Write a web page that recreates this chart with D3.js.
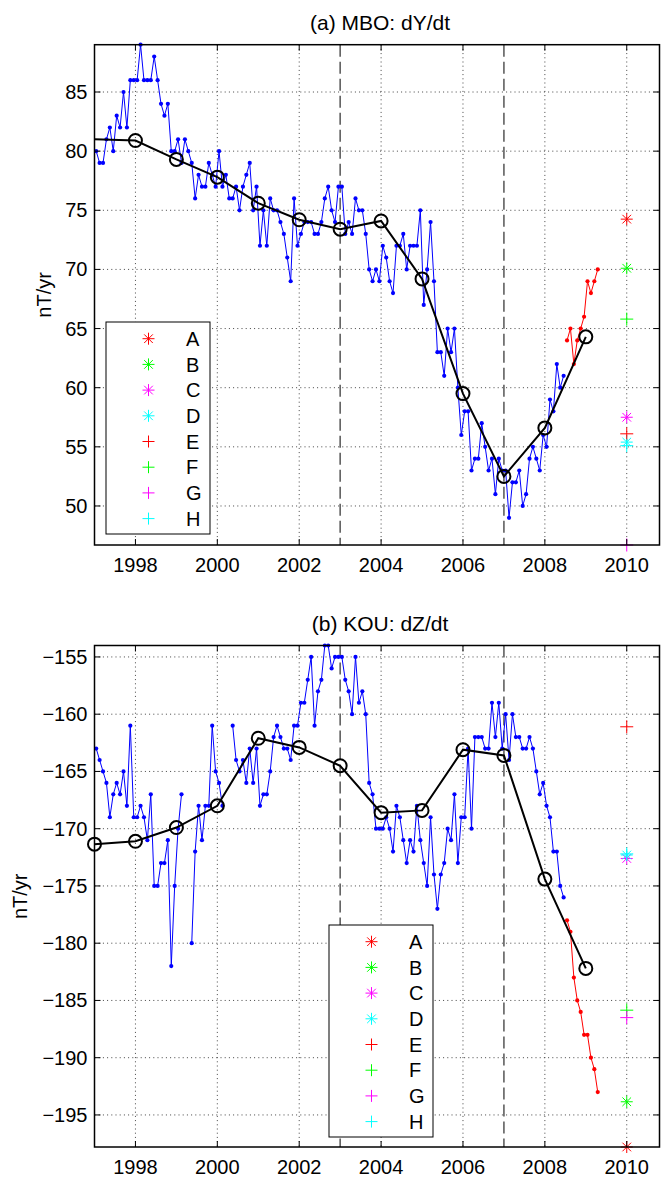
<!DOCTYPE html>
<html><head><meta charset="utf-8">
<script src="https://cdn.jsdelivr.net/npm/d3@7"></script>
<style>
html,body{margin:0;padding:0;background:#fff;}
svg{display:block;font-family:"Liberation Sans",Arial,Helvetica,sans-serif;}
</style></head><body>
<svg id="chart" width="661" height="1178"></svg>
<script>
// ---------------- data ----------------
const startYear = 1997;            // monthly series start (index 0 = Jan 1997)
const mboMonthly = [
  80,79,79,81,82,80,83,82,85,82,86,86,
  86,89,86,86,86,88,86,84,83,84,80,80,
  81,79,81,80,79,76,78,77,77,79,78,77,
  80,77,78,76,76,77,75,77,78,79,75,77,
  72,75,72,76,75,75,74,73,71,69,76,72,
  73,74,74,74,73,73,74,76,77,75,74,77,
  77,73,74,73,76,75,75,73,70,69,70,69,
  72,71,69,68,72,72,73,70,72,72,72,75,
  67,70,74,69,63,63,61,65,63,65,60,56,
  58,58,53,54,54,57,55,53,54,51,54,53,
  53,49,52,52,53,50,51,54,55,54,53,56,
  55,59,58,62,60,61
];
const kouMonthly = [
  -163,-164,-165,-166,-169,-167,-166,-167,-165,-168,-161,-169,
  -169,-168,-169,-171,-167,-175,-175,-173,-173,-171,-182,-175,
  -170,-167,null,null,-180,-172,-168,-171,-168,-168,-161,-165,
  -166,-168,null,null,-161,-164,-165,-164,-166,-163,-166,-163,
  -168,-167,-167,-165,-162,-161,-162,-163,-163,-164,-161,-161,
  -159,-159,-157,-155,-161,-158,-157,-154,-154,-156,-155,-155,
  -155,-157,-158,-160,-155,-159,-158,-160,-166,-167,-170,-170,
  -170,-169,-170,-172,-168,-169,-171,-173,-171,-172,-168,-171,
  -173,-175,-169,-174,-177,-174,-173,-170,-171,-167,-173,-169,
  -169,-163,-170,-162,-162,-162,-163,-163,-159,-162,-159,-163,
  -160,-164,-160,-162,-162,-163,-163,-162,-163,-165,-167,-166,
  -168,-169,-172,-172,-175,-176
];
const recentStartIndex = 138;      // month index where the red series begins
const mboRecent = [64,65,62,64,65,66,69,68,69,70];
const kouRecent = [-178,-179,-183,-185,-186,-188,-188,-190,-191,-193];

const annualYears = [1997,1998,1999,2000,2001,2002,2003,2004,2005,2006,2007,2008,2009];
const mboAnnual = [81.0,80.9,79.3,77.8,75.6,74.2,73.4,74.1,69.2,59.5,52.5,56.6,64.3];
const kouAnnual = [-171.35,-171.1,-169.9,-168.0,-162.1,-162.9,-164.5,-168.6,-168.4,-163.1,-163.6,-174.4,-182.2];

const modelNames   = ["A","B","C","D","E","F","G","H"];
const modelColors  = ["#ff0000","#00ff00","#ff00ff","#00ffff","#ff0000","#00ff00","#ff00ff","#00ffff"];
const modelSymbols = ["asterisk","asterisk","asterisk","asterisk","plus","plus","plus","plus"];
const modelEpoch = 2010;
const mboModels = [74.25,70.1,57.5,55.4,56.1,65.8,46.7,55.1];
const kouModels = [-197.8,-193.85,-172.6,-172.3,-161.1,-185.85,-186.5,-172.2];

const xTicks = [1998,2000,2002,2004,2006,2008,2010];
const mboYTicks = [50,55,60,65,70,75,80,85];
const kouYTicks = [-195,-190,-185,-180,-175,-170,-165,-160,-155];
const epochLines = [2003,2007];
const titles = ["(a) MBO: dY/dt","(b) KOU: dZ/dt"];
const yLabel = "nT/yr";

// ---------------- drawing ----------------
const svg = d3.select("#chart");
const FONT = 20;
const x = d3.scaleLinear().domain([1997, 2010.8]).range([94.5, 659.5]);
const monthTime = i => startYear + (i + 0.5) / 12;

function symbolPath(type, h) {
  if (type === "plus") return `M${-h},0L${h},0M0,${-h}L0,${h}`;
  const d = h * 0.72;
  return `M${-h},0L${h},0M0,${-h}L0,${h}M${-d},${-d}L${d},${d}M${-d},${d}L${d},${-d}`;
}

function panel(cfg) {
  const g = svg.append("g");
  const y = d3.scaleLinear().domain(cfg.yDomain).range([cfg.bottom, cfg.top]);
  const L = x.range()[0], R = x.range()[1];

  // grid
  g.append("g").selectAll("line").data(xTicks).join("line")
    .attr("x1", d => x(d)).attr("x2", d => x(d)).attr("y1", cfg.top).attr("y2", cfg.bottom)
    .attr("stroke", "#444").attr("stroke-width", 1).attr("stroke-dasharray", "1,3.2");
  g.append("g").selectAll("line").data(cfg.yTicks).join("line")
    .attr("x1", L).attr("x2", R).attr("y1", d => y(d)).attr("y2", d => y(d))
    .attr("stroke", "#444").attr("stroke-width", 1).attr("stroke-dasharray", "1,3.2");

  // epoch dashed lines
  g.append("g").selectAll("line").data(epochLines).join("line")
    .attr("x1", d => x(d)).attr("x2", d => x(d)).attr("y1", cfg.top).attr("y2", cfg.bottom)
    .attr("stroke", "#555").attr("stroke-width", 1.5).attr("stroke-dasharray", "12,5");

  // monthly blue
  const monthly = cfg.monthly.map((v, i) => ({t: monthTime(i), v}));
  const line = d3.line().defined(d => d.v != null).x(d => x(d.t)).y(d => y(d.v));
  g.append("path").datum(monthly).attr("d", line)
    .attr("fill", "none").attr("stroke", "#0000ff").attr("stroke-width", 1);
  g.append("g").selectAll("circle").data(monthly.filter(d => d.v != null)).join("circle")
    .attr("cx", d => x(d.t)).attr("cy", d => y(d.v)).attr("r", 2.1).attr("fill", "#0000ff");

  // recent red
  const recent = cfg.recent.map((v, i) => ({t: monthTime(recentStartIndex + i), v}));
  g.append("path").datum(recent).attr("d", line)
    .attr("fill", "none").attr("stroke", "#ff0000").attr("stroke-width", 1);
  g.append("g").selectAll("circle").data(recent).join("circle")
    .attr("cx", d => x(d.t)).attr("cy", d => y(d.v)).attr("r", 2.1).attr("fill", "#ff0000");

  // annual black
  const annual = annualYears.map((t, i) => ({t, v: cfg.annual[i]}));
  g.append("path").datum(annual).attr("d", d3.line().x(d => x(d.t)).y(d => y(d.v)))
    .attr("fill", "none").attr("stroke", "#000").attr("stroke-width", 2);
  g.append("g").selectAll("circle").data(annual.slice(cfg.firstCircle)).join("circle")
    .attr("cx", d => x(d.t)).attr("cy", d => y(d.v)).attr("r", 6.5)
    .attr("fill", "none").attr("stroke", "#000").attr("stroke-width", 2);

  // model markers
  g.append("g").selectAll("path").data(cfg.models.map((v, i) => ({v, i}))).join("path")
    .attr("transform", d => `translate(${x(modelEpoch)},${y(d.v)})`)
    .attr("d", d => symbolPath(modelSymbols[d.i], modelSymbols[d.i] === "plus" ? 6.5 : 6))
    .attr("fill", "none").attr("stroke", d => modelColors[d.i]).attr("stroke-width", 1);

  // axes box and ticks
  g.append("rect").attr("x", L).attr("y", cfg.top).attr("width", R - L).attr("height", cfg.bottom - cfg.top)
    .attr("fill", "none").attr("stroke", "#000").attr("stroke-width", 1.5);
  const tl = 6;
  g.append("g").selectAll("path").data(xTicks).join("path")
    .attr("d", d => `M${x(d)},${cfg.bottom}v${-tl}M${x(d)},${cfg.top}v${tl}`)
    .attr("stroke", "#000").attr("stroke-width", 1);
  g.append("g").selectAll("path").data(cfg.yTicks).join("path")
    .attr("d", d => `M${L},${y(d)}h${tl}M${R},${y(d)}h${-tl}`)
    .attr("stroke", "#000").attr("stroke-width", 1);

  // tick labels
  g.append("g").selectAll("text").data(xTicks).join("text")
    .attr("x", d => x(d)).attr("y", cfg.bottom + 27).attr("text-anchor", "middle")
    .attr("font-size", FONT).text(d => d);
  const fmt = d => d < 0 ? "\u2212" + Math.abs(d) : String(d);
  g.append("g").selectAll("text").data(cfg.yTicks).join("text")
    .attr("x", L - 7).attr("y", d => y(d)).attr("dy", "0.35em").attr("text-anchor", "end")
    .attr("font-size", FONT).text(fmt);

  // title and y label
  g.append("text").attr("x", 380).attr("y", cfg.top - 15).attr("text-anchor", "middle")
    .attr("font-size", FONT + 1).text(cfg.title);
  g.append("text").attr("transform", `translate(${cfg.ylabelX},${(cfg.top + cfg.bottom) / 2}) rotate(-90)`)
    .attr("text-anchor", "middle").attr("dy", "0.35em").attr("font-size", FONT).text(yLabel);

  // legend
  const lg = g.append("g").attr("transform", `translate(${cfg.legend[0]},${cfg.legend[1]})`);
  lg.append("rect").attr("x", 0).attr("y", 0).attr("width", 104).attr("height", 212)
    .attr("fill", "#fff").attr("stroke", "#000").attr("stroke-width", 1);
  const items = lg.selectAll("g").data(modelNames).join("g")
    .attr("transform", (d, i) => `translate(0,${16.7 + i * 25.7})`);
  items.append("path").attr("transform", "translate(42.5,0)")
    .attr("d", (d, i) => symbolPath(modelSymbols[i], 6))
    .attr("fill", "none").attr("stroke", (d, i) => modelColors[i]).attr("stroke-width", 1);
  items.append("text").attr("x", 80).attr("dy", "0.36em").attr("font-size", FONT).text(d => d);
}

panel({top: 44.7, bottom: 545, yDomain: [46.7, 89], yTicks: mboYTicks, title: titles[0],
       monthly: mboMonthly, recent: mboRecent, annual: mboAnnual, models: mboModels,
       firstCircle: 1, ylabelX: 44, legend: [106, 322]});
panel({top: 645.5, bottom: 1147, yDomain: [-197.8, -154], yTicks: kouYTicks, title: titles[1],
       monthly: kouMonthly, recent: kouRecent, annual: kouAnnual, models: kouModels,
       firstCircle: 0, ylabelX: 20, legend: [329, 925]});
</script>
</body></html>
